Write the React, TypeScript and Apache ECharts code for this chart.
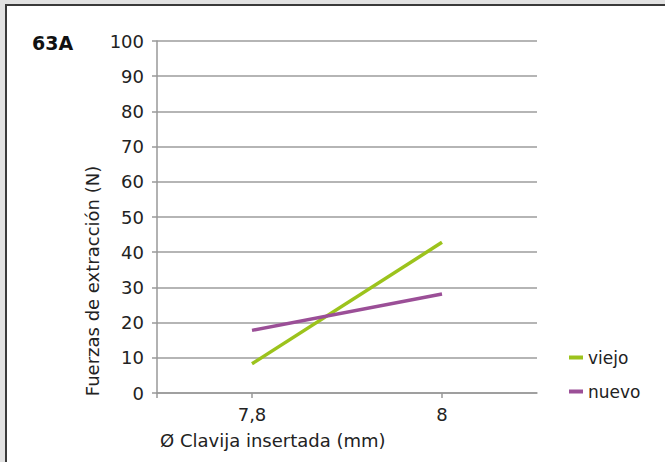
import React, { useEffect, useRef } from "react";
import * as echarts from "echarts";

const xValues = [7.8, 8];
const viejo = [8.3, 42.8];
const nuevo = [17.8, 28.1];
const xLabelValues = [7.8, 8];
const xTickValues = [7.7, 7.8, 8];
const seriesNames = ["viejo", "nuevo"];
const title = "63A";
const yName = "Fuerzas de extracción (N)";
const xName = "Ø Clavija insertada (mm)";

const FONT = "'DejaVu Sans', sans-serif";

export default function App() {
  const ref = useRef<HTMLDivElement>(null);
  useEffect(() => {
    document.body.style.margin = "0";
    const chart = echarts.init(ref.current!, null, { renderer: "svg" });
    const toPairs = (ys: number[]) => xValues.map((x, i) => [x, ys[i]]);
    chart.setOption({
      animation: false,
      backgroundColor: "#e2e2e2",
      textStyle: { fontFamily: FONT },
      graphic: [
        {
          type: "rect",
          z: -10,
          shape: { x: 6, y: 5, width: 700, height: 500 },
          style: { fill: "#ffffff", stroke: "#3a3a3a", lineWidth: 2 },
        },
        {
          type: "text",
          x: 32,
          y: 43,
          style: {
            text: title,
            font: `bold 19px ${FONT}`,
            fill: "#111",
            textVerticalAlign: "middle",
          },
        },
        {
          type: "text",
          x: 92,
          y: 281,
          rotation: Math.PI / 2,
          style: {
            text: yName,
            font: `18px ${FONT}`,
            fill: "#222",
            textAlign: "center",
            textVerticalAlign: "middle",
          },
        },
        {
          type: "text",
          x: 160,
          y: 440,
          style: {
            text: xName,
            font: `18px ${FONT}`,
            fill: "#222",
            textAlign: "left",
            textVerticalAlign: "middle",
          },
        },
      ],
      legend: {
        orient: "vertical",
        left: 564,
        top: 344,
        itemWidth: 14,
        itemHeight: 4,
        itemGap: 17,
        icon: "rect",
        data: seriesNames,
        textStyle: { fontSize: 17, color: "#222", fontFamily: FONT },
      },
      grid: { left: 157, right: 128, top: 41, bottom: 69 },
      xAxis: {
        type: "value",
        min: 7.7,
        max: 8.1,
        splitLine: { show: false },
        axisLine: { show: true, lineStyle: { color: "#999", width: 1.5 } },
        axisTick: {
          show: true,
          length: 5,
          customValues: xTickValues,
          lineStyle: { color: "#999", width: 1.5 },
        },
        axisLabel: {
          customValues: xLabelValues,
          formatter: (v: number) => String(v).replace(".", ","),
          fontSize: 18,
          color: "#222",
          margin: 12,
          fontFamily: FONT,
        },
      },
      yAxis: {
        type: "value",
        min: 0,
        max: 100,
        interval: 10,
        axisLine: { show: true, lineStyle: { color: "#999", width: 1.5 } },
        axisTick: { show: true, length: 5, lineStyle: { color: "#999", width: 1.5 } },
        splitLine: { show: true, lineStyle: { color: "#9c9c9c", width: 1.5 } },
        axisLabel: { fontSize: 18, color: "#222", margin: 13, fontFamily: FONT },
      },
      series: [
        {
          name: seriesNames[0],
          type: "line",
          data: toPairs(viejo),
          showSymbol: false,
          symbol: "none",
          lineStyle: { width: 3.5, color: "#9cc31c" },
          itemStyle: { color: "#9cc31c" },
        },
        {
          name: seriesNames[1],
          type: "line",
          data: toPairs(nuevo),
          showSymbol: false,
          symbol: "none",
          lineStyle: { width: 3.5, color: "#9b4f97" },
          itemStyle: { color: "#9b4f97" },
        },
      ],
    });
    return () => chart.dispose();
  }, []);
  return (
    <div
      ref={ref}
      style={{ position: "absolute", left: 0, top: 0, width: 665, height: 462 }}
    />
  );
}
